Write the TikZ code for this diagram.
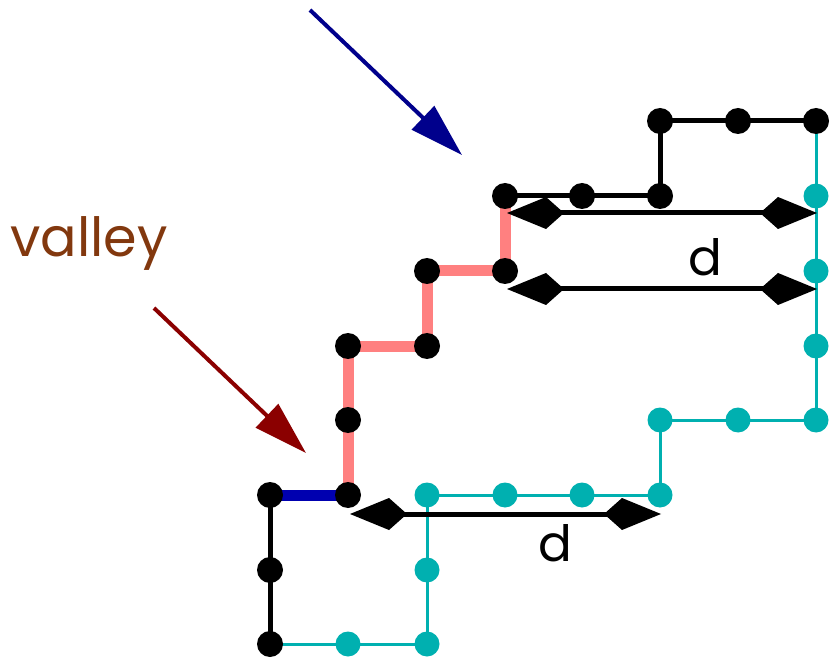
\documentclass[tikz,border=0pt]{standalone}
\usepackage{fontspec}
\setmainfont{Poppins}
\usetikzlibrary{arrows.meta}
\definecolor{tealc}{RGB}{0,176,176}
\definecolor{pinkc}{RGB}{255,128,128}
\definecolor{bluec}{RGB}{0,0,176}
\definecolor{navyc}{RGB}{0,0,140}
\definecolor{darkredc}{RGB}{139,0,0}
\definecolor{brownc}{RGB}{130,56,14}
\tikzset{
  bdot/.style={circle,fill=black,inner sep=0pt,minimum size=26pt},
  tdot/.style={circle,fill=tealc,inner sep=0pt,minimum size=25pt},
  blackline/.style={line width=5pt,black},
  tealline/.style={line width=3pt,tealc},
  pinkline/.style={line width=11pt,pinkc},
  blueline/.style={line width=11pt,bluec},
  darrow/.style={line width=5pt,{Kite[length=57pt,width=32pt,inset=18pt]}-{Kite[length=57pt,width=32pt,inset=18pt]}},
  pointer/.style={line width=4pt,-{Triangle[length=54pt,width=32pt]}},
  dlabel/.style={font=\fontsize{50}{50}\selectfont}
}
\begin{document}
\begin{tikzpicture}[x=1pt,y=-1pt]
\useasboundingbox (0,0) rectangle (830,660);
% grid points
\coordinate (a1) at (505,196);
\coordinate (a2) at (582,196);
\coordinate (a3) at (660,196);
\coordinate (a4) at (660,121);
\coordinate (a5) at (738,121);
\coordinate (a6) at (816,121);
\coordinate (t1) at (816,196);
\coordinate (t2) at (816,271);
\coordinate (t3) at (816,346);
\coordinate (t4) at (816,420);
\coordinate (t5) at (738,420);
\coordinate (t6) at (660,420);
\coordinate (t7) at (660,495);
\coordinate (t8) at (582,495);
\coordinate (t9) at (505,495);
\coordinate (t10) at (427,495);
\coordinate (t11) at (427,570);
\coordinate (t12) at (427,644);
\coordinate (t13) at (348,644);
\coordinate (b1) at (270,644);
\coordinate (b2) at (270,570);
\coordinate (b3) at (270,495);
\coordinate (p1) at (348,495);
\coordinate (p2) at (348,420);
\coordinate (p3) at (348,346);
\coordinate (p4) at (427,346);
\coordinate (p5) at (427,271);
\coordinate (p6) at (505,271);
% lines
\draw[tealline] (a6) -- (t1) -- (t2) -- (t3) -- (t4) -- (t5) -- (t6) -- (t7) -- (t8) -- (t9) -- (t10) -- (t11) -- (t12) -- (t13) -- (b1);
\draw[blackline] (a1) -- (a2) -- (a3) -- (a4) -- (a5) -- (a6);
\draw[blackline] (b1) -- (b2) -- (b3);
\draw[blueline] (b3) -- (p1);
\draw[pinkline] (p1) -- (p2) -- (p3) -- (p4) -- (p5) -- (p6) -- (a1);
% dots
\foreach \p in {t1,t2,t3,t4,t5,t6,t7,t8,t9,t10,t11,t12,t13}
  \node[tdot] (d\p) at (\p) {};
\foreach \p in {a1,a2,a3,a4,a5,a6,b1,b2,b3,p1,p2,p3,p4,p5,p6}
  \node[bdot] (d\p) at (\p) {};
% distance arrows
\coordinate (u1) at (507,213);
\coordinate (u2) at (817,213);
\coordinate (v1) at (507,289);
\coordinate (v2) at (817,289);
\coordinate (w1) at (350,514);
\coordinate (w2) at (661,514);
\draw[darrow] (u1) -- (u2);
\draw[darrow] (v1) -- (v2);
\draw[darrow] (w1) -- (w2);
\node[dlabel] (dl1) at (705,257) {d};
\node[dlabel] (dl2) at (555,543) {d};
% pointers
\coordinate (n1) at (310,10);
\coordinate (n2) at (462,155);
\draw[pointer,navyc] (n1) -- (n2);
\coordinate (r1) at (154,308);
\coordinate (r2) at (306,453);
\draw[pointer,darkredc] (r1) -- (r2);
\node[font=\fontsize{54}{54}\selectfont,text=brownc] (valley) at (89,243) {valley};
\end{tikzpicture}
\end{document}
